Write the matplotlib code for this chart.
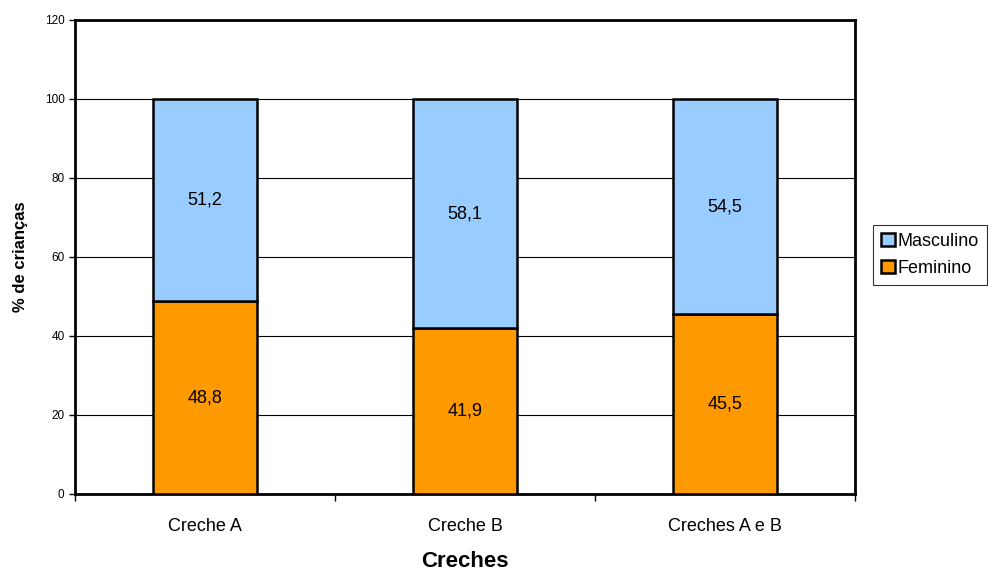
import matplotlib.pyplot as plt
import numpy as np

plt.rcParams["font.family"] = ["Liberation Sans", "DejaVu Sans"]

creches = ["Creche A", "Creche B", "Creches A e B"]
feminino = [48.8, 41.9, 45.5]
masculino = [51.2, 58.1, 54.5]
y_ticks = [0, 20, 40, 60, 80, 100, 120]

fig = plt.figure(figsize=(9.91, 5.76), dpi=100)
ax = fig.add_axes([0.0757, 0.1424, 0.7871, 0.8229])

x = np.arange(len(creches))
width = 0.4
bars_f = ax.bar(x, feminino, width, color="#FF9900", edgecolor="black",
                linewidth=1.8, label="Feminino", zorder=3)
bars_m = ax.bar(x, masculino, width, bottom=feminino, color="#99CCFF",
                edgecolor="black", linewidth=1.8, label="Masculino", zorder=3)

for bars, vals, bottoms in [(bars_f, feminino, [0] * 3), (bars_m, masculino, feminino)]:
    for b, v, bot in zip(bars, vals, bottoms):
        ax.text(b.get_x() + b.get_width() / 2, bot + v / 2,
                f"{v:.1f}".replace(".", ","), ha="center", va="center",
                fontsize=13, zorder=4)

ax.set_xlim(-0.5, 2.5)
ax.set_ylim(0, 120)
ax.set_yticks(y_ticks)
ax.tick_params(axis="y", labelsize=8.5, length=4, width=1, direction="out")
ax.yaxis.grid(True, color="black", linewidth=0.8, zorder=0)

ax.set_xticks(x)
ax.set_xticklabels(creches, fontsize=13)
ax.tick_params(axis="x", length=0, pad=17)
ax.set_xticks(np.arange(-0.5, 3, 1), minor=True)
ax.tick_params(axis="x", which="minor", length=5, width=1, direction="out")

for s in ax.spines.values():
    s.set_linewidth(2)

ax.set_ylabel("% de crianças", fontsize=12, fontweight="bold", labelpad=12)
ax.set_xlabel("Creches", fontsize=16, fontweight="bold", labelpad=12)

handles = [bars_m, bars_f]
leg = fig.legend(handles, ["Masculino", "Feminino"], loc="upper left",
                 bbox_to_anchor=(873 / 991, 1 - 225 / 576), fontsize=13,
                 frameon=True, fancybox=False, edgecolor="black",
                 handlelength=0.75, handleheight=0.75, handletextpad=0.15,
                 borderpad=0.45, labelspacing=0.55, borderaxespad=0)
leg.get_frame().set_linewidth(0.8)

fig.savefig("out.png", dpi=100)
